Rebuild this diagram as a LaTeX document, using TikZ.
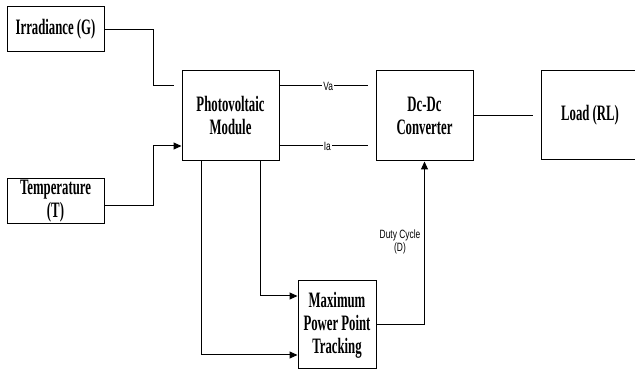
\documentclass[tikz,border=0pt]{standalone}
\usepackage{fontspec}
\usetikzlibrary{arrows.meta}
\newfontfamily\bfc[FakeStretch=0.58]{Liberation Serif}
\newfontfamily\sfc[FakeStretch=0.7]{Liberation Sans}
\begin{document}
\begin{tikzpicture}[x=1pt,y=-1pt,
  blk/.style={draw,line width=1pt,inner sep=0pt,align=center,
    font=\bfc\bfseries\fontsize{22}{23}\selectfont},
  wire/.style={line width=1pt},
  arr/.style={line width=1pt,-{Triangle[length=8pt,width=7pt]}},
  lbl/.style={fill=white,inner sep=1pt,font=\sfc\fontsize{12}{13.3}\selectfont},
  dlbl/.style={inner sep=0pt,align=center,font=\sfc\fontsize{12}{13.3}\selectfont}]
\useasboundingbox (0,0) rectangle (635,371);
\begin{scope}
\clip (0,0) rectangle (635,371);
\node[blk,minimum width=97pt,minimum height=45pt] (irr) at (55.5,29.5) {Irradiance (G)};
\node[blk,minimum width=97pt,minimum height=45pt] (temp) at (55.5,201.5) {Temperature\\(T)};
\node[blk,minimum width=97pt,minimum height=90pt] (pv) at (230.5,116) {Photovoltaic\\Module};
\node[blk,minimum width=97pt,minimum height=90pt] (dc) at (424.5,116) {Dc-Dc\\Converter};
\node[blk,minimum width=98pt,minimum height=89pt] (load) at (590,115.5) {Load (RL)};
\node[blk,minimum width=78pt,minimum height=88pt] (mppt) at (337,325) {Maximum\\Power Point\\Tracking};

\coordinate (irrend) at (174,86);
\coordinate (irrbend) at (153,29.5);
\coordinate (tstart) at (104,206);
\coordinate (tbend) at (153,146);
\coordinate (vaend) at (368,86);
\coordinate (iaend) at (368,146);
\coordinate (lend) at (533,116);
\coordinate (c1) at (260,296);
\coordinate (c2) at (201,355);

\draw[wire] (irr.east) -- (irrbend) |- (irrend);
\draw[arr] (temp.east |- tstart) -| (tbend) -- (pv.west |- tbend);
\draw[wire] (pv.east |- vaend) -- node[lbl,pos=0.55] {Va} (vaend);
\draw[wire] (pv.east |- iaend) -- node[lbl,pos=0.54] {Ia} (iaend);
\draw[wire] (dc.east) -- (lend);
\draw[arr] (pv.south -| c1) -- (c1) -- (mppt.west |- c1);
\draw[arr] (pv.south -| c2) -- (c2) -- (mppt.west |- c2);
\draw[arr] (mppt.east) -| (dc.south);
\node[dlbl] (duty) at (400,242) {Duty Cycle\\(D)};
\end{scope}
\end{tikzpicture}
\end{document}
